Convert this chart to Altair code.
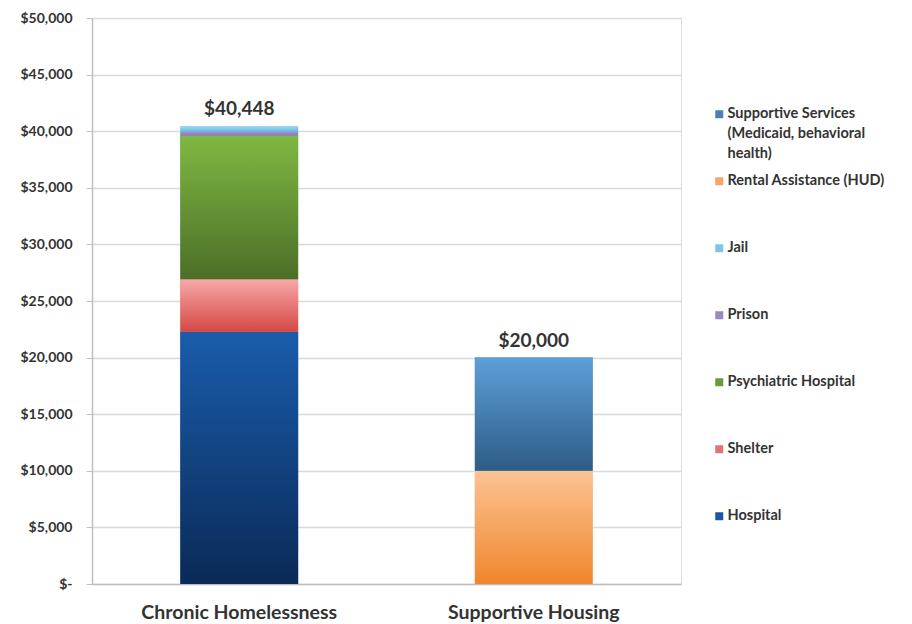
import altair as alt
import pandas as pd

categories = ["Chronic Homelessness"] * 5 + ["Supportive Housing"] * 2
series = ["Hospital", "Shelter", "Psychiatric Hospital", "Prison", "Jail",
          "Rental Assistance (HUD)", "Supportive Services (Medicaid, behavioral health)"]
values = [22290, 4630, 12680, 360, 488, 10000, 10000]
stack_rank = [0, 1, 2, 3, 4, 5, 6]

legend_order = ["Supportive Services (Medicaid, behavioral health)", "Rental Assistance (HUD)",
                "Jail", "Prison", "Psychiatric Hospital", "Shelter", "Hospital"]
legend_colors = ["#4a80b4", "#f5a66c", "#7cc5e6", "#9a8ac2", "#6a9a3a", "#e07474", "#1c56a0"]

gradients = {
    "Hospital": ("#1a5cab", "#0a2a57"),
    "Shelter": ("#f7a9a7", "#d44846"),
    "Psychiatric Hospital": ("#7fb842", "#4c6f28"),
    "Prison": ("#a393c8", "#8a78b4"),
    "Jail": ("#a3d9f2", "#62b6e0"),
    "Rental Assistance (HUD)": ("#fcc395", "#f0862c"),
    "Supportive Services (Medicaid, behavioral health)": ("#5d9fd8", "#2d5c86"),
}

df = pd.DataFrame({"category": categories, "series": series, "value": values, "rank": stack_rank})

FONT = "Lato"
TXT = "#333333"

xscale = alt.Scale(paddingInner=0.6, paddingOuter=0.3)
yscale = alt.Scale(domain=[0, 50000])

base = alt.Chart(df).transform_stack(
    stack="value", groupby=["category"], as_=["y0", "y1"],
    sort=[alt.SortField("rank", order="ascending")]
)

x_enc = alt.X("category:N", scale=xscale, sort=["Chronic Homelessness", "Supportive Housing"],
              axis=alt.Axis(title=None, labelAngle=0, labelFontSize=19.5, labelFont=FONT,
                            labelFontWeight="bold", labelColor=TXT, ticks=False, labelLimit=400,
                            labelPadding=19, domainColor="#bfbfbf", domainWidth=1.5))
y_enc = alt.Y("y0:Q", scale=yscale,
              axis=alt.Axis(title=None, values=list(range(0, 50001, 5000)),
                            labelExpr="datum.value == 0 ? '$-' : '$' + format(datum.value, ',')",
                            labelFontSize=14, labelFont=FONT, labelFontWeight="bold",
                            labelColor=TXT, tickSize=6, tickColor="#bfbfbf", labelPadding=14,
                            gridColor="#d9d9d9", gridWidth=1.5, domainColor="#bfbfbf",
                            domainWidth=1.5))

solid = base.mark_bar().encode(
    x=x_enc,
    y=y_enc,
    y2="y1:Q",
    color=alt.Color("series:N", scale=alt.Scale(domain=legend_order, range=legend_colors),
                    legend=alt.Legend(title=None, orient="none", legendX=620, legendY=89,
                                      labelFont=FONT, labelFontSize=14.5, labelFontWeight="bold",
                                      labelColor=TXT, labelLimit=300, symbolType="square",
                                      symbolSize=64, symbolStrokeWidth=0, gridAlign="all",
                                      rowPadding=12, labelOffset=1,
                                      labelExpr="datum.label == 'Supportive Services (Medicaid, behavioral health)' ? ['Supportive Services', '(Medicaid, behavioral', 'health)'] : datum.label")),
)

layers = [solid]
for s in series:
    top, bottom = gradients[s]
    g = alt.Gradient(gradient="linear",
                     stops=[alt.GradientStop(color=top, offset=0), alt.GradientStop(color=bottom, offset=1)],
                     x1=0, x2=0, y1=0, y2=1)
    layers.append(
        base.transform_filter(alt.datum.series == s).mark_bar(fill=g).encode(
            x=alt.X("category:N", scale=xscale), y=alt.Y("y0:Q", scale=yscale), y2="y1:Q")
    )

totals = alt.Chart(df).transform_aggregate(
    total="sum(value)", groupby=["category"]
).mark_text(font=FONT, fontSize=19, fontWeight="bold", color=TXT, baseline="bottom", dy=-7).encode(
    x=alt.X("category:N", scale=xscale),
    y=alt.Y("total:Q", scale=yscale),
    text=alt.Text("total:Q", format="$,"),
)
layers.append(totals)

chart = alt.layer(*layers).properties(
    width=589, height=566,
    padding={"left": 20, "top": 11, "right": 5, "bottom": 5},
).configure_view(stroke=None).configure(
    background="white", style={"guide-label": {"lineHeight": 20}}
)

chart.save("out.html", embed_options={"renderer": "svg", "actions": False})
